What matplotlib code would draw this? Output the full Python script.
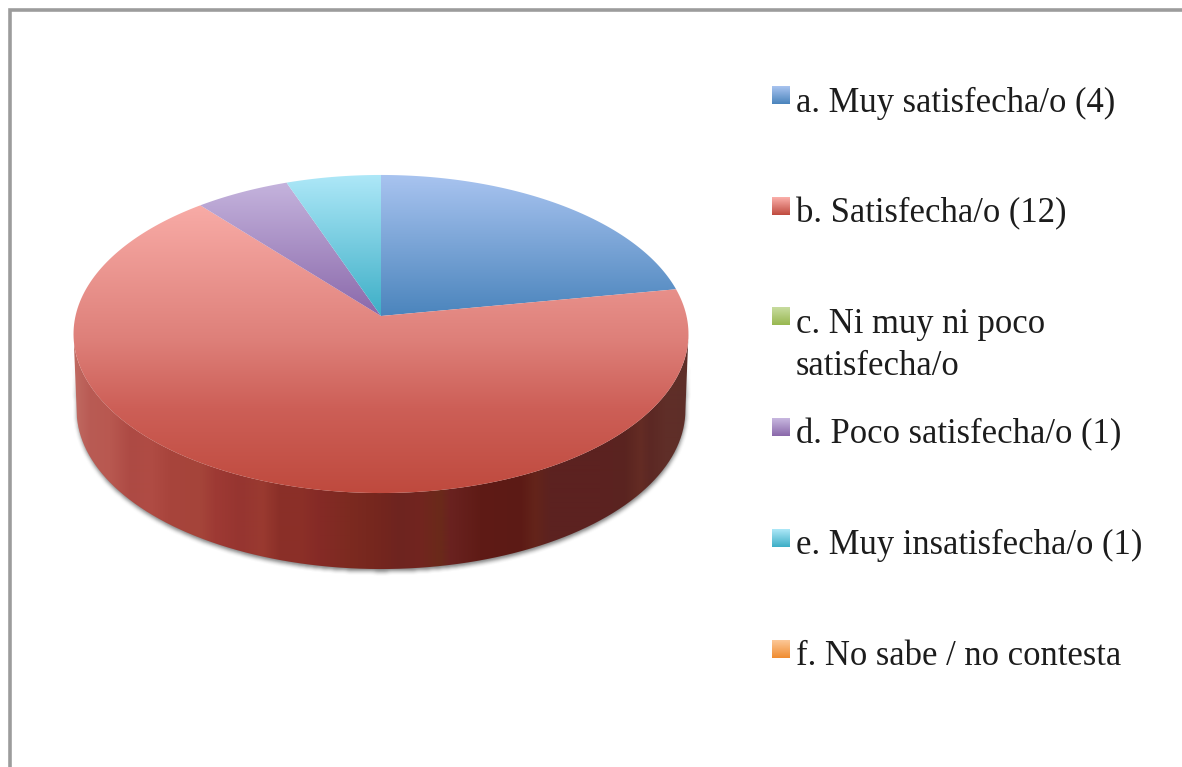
import numpy as np
import matplotlib
matplotlib.use("Agg")
import matplotlib.pyplot as plt
from matplotlib.colors import LinearSegmentedColormap as LSC, to_rgb
from matplotlib.patches import PathPatch, Rectangle
from matplotlib.path import Path

# ---- data
labels = ["a. Muy satisfecha/o (4)", "b. Satisfecha/o (12)",
          "c. Ni muy ni poco\nsatisfecha/o", "d. Poco satisfecha/o (1)",
          "e. Muy insatisfecha/o (1)", "f. No sabe / no contesta"]
values = [4, 12, 0, 1, 1, 0]
top_colors = ["#a9c4f0", "#fbb0ab", "#c8dca0", "#c8b8e0", "#aee8f8", "#fcc898"]
bottom_colors = ["#4a84bc", "#bf4a3e", "#98b850", "#8a68aa", "#3caec6", "#f08c30"]

W, H = 1182, 767
fig = plt.figure(figsize=(W / 100, H / 100), dpi=100, facecolor="white")
ax = fig.add_axes([0, 0, 1, 1])
ax.set_xlim(0, W)
ax.set_ylim(H, 0)
ax.axis("off")

# ---- frame
ax.add_patch(Rectangle((9.5, 9.5), W + 40, H + 40, fc="white", ec="#9c9c9c", lw=2.6, zorder=0))

# ---- perspective projection of the pie disc
APEX_X, APEX_Y = 381.0, 316.0
P, A, C = 0.1132, 157.0, 305.5
DEPTH = 76.0
BASE_SCALE = 0.99


def project(theta):
    u, v = np.sin(theta), np.cos(theta)
    d = 1 + P * v
    return APEX_X + C * u / d, APEX_Y - A * v / d


def gradient(path, stops, y0, y1, z):
    cmap = LSC.from_list("g", stops)
    im = ax.imshow(np.linspace(0, 1, 256)[:, None], extent=(0, W, y1, y0), cmap=cmap,
                   aspect="auto", interpolation="bilinear", zorder=z, vmin=0, vmax=1)
    patch = PathPatch(path, transform=ax.transData, fc="none", ec="none")
    ax.add_patch(patch)
    im.set_clip_path(patch)
    return im


full = np.linspace(0, 2 * np.pi, 721)
rx, ry = project(full)
il, ir = np.argmin(rx), np.argmax(rx)
lo = np.linspace(full[ir], full[il], 300)
lx, ly = project(lo)
bx = APEX_X + (lx - APEX_X) * BASE_SCALE
by = ly + DEPTH
side_xy = np.vstack([np.c_[lx, ly], np.c_[bx[::-1], by[::-1]]])

# ---- soft shadow (blurred silhouette of the wall)
gx, gy = np.meshgrid(np.arange(40, 730), np.arange(320, 600))
mask = Path(side_xy + [0, 2]).contains_points(np.c_[gx.ravel(), gy.ravel()]).reshape(gx.shape).astype(float)
kernel = np.ones(5) / 5
for _ in range(2):
    mask = np.apply_along_axis(lambda m: np.convolve(m, kernel, mode="same"), 0, mask)
    mask = np.apply_along_axis(lambda m: np.convolve(m, kernel, mode="same"), 1, mask)
fade = np.clip((gy - 365) / 35, 0, 1)
shadow = np.zeros(gx.shape + (4,))
shadow[..., :3] = 0.33
shadow[..., 3] = mask * fade * 0.75
ax.imshow(shadow, extent=(40, 730, 600, 320), aspect="auto", interpolation="bilinear", zorder=1)

# ---- side wall, shaded from left to right
side_x = [74, 90, 110, 130, 150, 170, 200, 215, 240, 262, 280, 300, 320, 350, 381, 400, 420, 440,
          450, 480, 520, 535, 550, 600, 625, 640, 650, 665, 689]
side_c = ["#c06a62", "#b95b54", "#b85850", "#ad4a44", "#b04c44", "#a8443c", "#a5453a", "#9e3a34",
          "#963530", "#9a3a30", "#8a2f28", "#8c3028", "#852a26", "#7c2a20", "#74261e", "#6e2420",
          "#72251f", "#6a2a1a", "#6a2220", "#5f1b16", "#5c1a15", "#64241a", "#5c2220", "#5c2220",
          "#5a2420", "#642c24", "#5c2824", "#602e28", "#5e2e28"]
sx = np.arange(74, 690)
rgb = np.array([to_rgb(c) for c in side_c])
strip = np.stack([np.interp(sx, side_x, rgb[:, i]) for i in range(3)], axis=1)[None, :, :]
im = ax.imshow(strip, extent=(74, 690, 600, 300), aspect="auto", interpolation="bilinear", zorder=2)
pp = PathPatch(Path(side_xy), transform=ax.transData, fc="none", ec="none")
ax.add_patch(pp)
im.set_clip_path(pp)

# ---- top face slices
start = 0.0
total = sum(values)
for i, val in enumerate(values):
    if val == 0:
        continue
    end = start + 2 * np.pi * val / total
    th = np.linspace(start, end, 200)
    x, y = project(th)
    verts = np.vstack([[APEX_X, APEX_Y], np.c_[x, y], [APEX_X, APEX_Y]])
    path = Path(verts, closed=True)
    if i == 1:
        stops = [(0, top_colors[i]), (0.49, "#de807a"), (0.72, "#cd5f57"), (1, bottom_colors[i])]
        gradient(path, stops, 190, 493, 3)
    else:
        gradient(path, [top_colors[i], bottom_colors[i]], 174, 317, 3)
    start = end

# ---- legend
swatch_y = [86, 197, 307, 418, 529, 640]
baseline = [112, 222, 333, 443, 554, 665]
for i, lab in enumerate(labels):
    y0 = swatch_y[i]
    path = Path([(772, y0), (790, y0), (790, y0 + 18), (772, y0 + 18), (772, y0)], closed=True)
    gradient(path, [top_colors[i], bottom_colors[i]], y0, y0 + 18, 3)
    lines = lab.split("\n")
    for j, ln in enumerate(lines):
        ax.text(796, baseline[i] + j * 42, ln, family="Liberation Serif", fontsize=24.9,
                color="#1c1c1c", va="baseline", ha="left", zorder=5)

ax.set_xlim(0, W)
ax.set_ylim(H, 0)
fig.savefig("out.png", dpi=100)
